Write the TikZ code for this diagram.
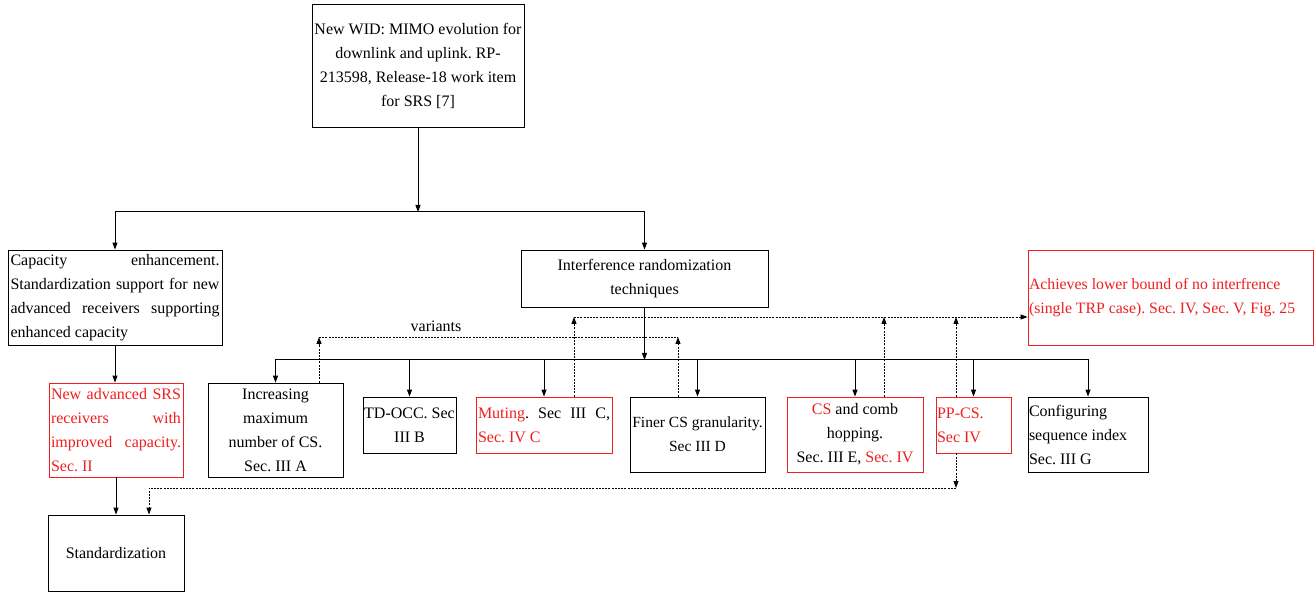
\documentclass[tikz,border=0pt]{standalone}
\usepackage{fontspec}
\setmainfont{Liberation Serif}
\usetikzlibrary{arrows.meta}
\definecolor{myred}{RGB}{240,30,30}
\hyphenpenalty=10000
\exhyphenpenalty=10000
\frenchspacing
\newcommand{\jline}[1]{\leavevmode\hbox to \hsize{\spaceskip=0pt\xspaceskip=0pt #1}}
\begin{document}
\begin{tikzpicture}[x=1pt,y=-1pt,
  box/.style={draw, line width=0.8pt, inner ysep=0pt, inner xsep=1pt, font=\fontsize{16}{24}\selectfont, align=center,
    execute at begin node={\spaceskip=\fontdimen2\font\xspaceskip=\fontdimen2\font}},
  redbox/.style={box, draw=myred, text=myred},
  tip/.tip={Triangle[length=7pt,width=5pt]},
  conn/.style={line width=1pt, -tip},
  dconn/.style={line width=0.9pt, dash pattern=on 2pt off 1.2pt, -tip},
  dline/.style={line width=0.9pt, dash pattern=on 2pt off 1.2pt}]
\useasboundingbox (0,0) rectangle (1315,593);

% nodes
\node[box, minimum width=212pt, minimum height=123pt, text width=210pt] (top) at (418,65.5)
  {New WID: MIMO evolution for\\ downlink and uplink. RP-\\ 213598, Release-18 work item\\ for SRS [7]};
\node[box, minimum width=214pt, minimum height=95pt, inner xsep=2.5pt, text width=209pt, align=left] (cap) at (115,297.5)
  {\jline{Capacity enhancement.}\\ \jline{Standardization support for new}\\ \jline{advanced receivers supporting}\\ enhanced capacity};
\node[box, minimum width=247pt, minimum height=57pt, text width=245pt] (interf) at (644.5,278.5)
  {Interference randomization\\ techniques};
\node[redbox, minimum width=285pt, minimum height=95pt, text width=283pt, align=left, font=\fontsize{15.8}{24}\selectfont] (ach) at (1170.5,297.5)
  {Achieves lower bound of no interfrence\\ (single TRP case). Sec. IV, Sec. V, Fig. 25};
\node[redbox, minimum width=134pt, minimum height=94pt, inner xsep=2pt, text width=130pt, align=left] (srs) at (116,430)
  {\jline{New advanced SRS}\\ \jline{receivers with}\\ \jline{improved capacity.}\\ Sec. II};
\node[box, minimum width=135pt, minimum height=94pt, text width=133pt] (inc) at (275.5,430)
  {Increasing\\ maximum\\ number of CS.\\ Sec. III A};
\node[box, minimum width=93pt, minimum height=56pt, inner xsep=0.5pt, text width=92pt] (td) at (409.5,425)
  {TD-OCC. Sec\\ III B};
\node[box, draw=myred, minimum width=136pt, minimum height=56pt, inner xsep=2pt, text width=132pt, align=left] (mut) at (544,425)
  {\jline{{\color{myred}Muting}. Sec III C,}\\ {\color{myred}Sec. IV C}};
\node[box, minimum width=135pt, minimum height=75pt, text width=133pt, font=\fontsize{15.5}{24}\selectfont] (fin) at (697.5,434.5)
  {Finer CS granularity.\\ Sec III D};
\node[box, draw=myred, minimum width=136pt, minimum height=75pt, text width=134pt] (cs) at (855,434.5)
  {{\color{myred}CS} and comb\\ hopping.\\ Sec. III E, {\color{myred}Sec. IV}};
\node[redbox, minimum width=75pt, minimum height=56pt, text width=73pt, align=left] (pp) at (973.5,425)
  {PP-CS.\\ Sec IV};
\node[box, minimum width=120pt, minimum height=75pt, text width=118pt, align=left] (cfg) at (1088,434.5)
  {Configuring\\ sequence index\\ Sec. III G};
\node[box, minimum width=136pt, minimum height=76pt, text width=134pt] (std) at (116,553)
  {Standardization};
\node[font=\fontsize{16}{24}\selectfont, inner sep=0pt] (var) at (436,326) {variants};

% solid connectors
\coordinate (split) at (418,212);
\coordinate (bus) at (644.5,360);
\draw[conn] (top) -- (split);
\draw[conn] (split) -| (cap);
\draw[conn] (split) -| (interf);
\draw[conn] (cap.south) -- (cap.south |- srs.north);
\draw[conn] (srs) -- (std);
\draw[conn] (interf) -- (bus);
\foreach \n in {inc,td,mut,fin,cs,pp,cfg} \draw[conn] (bus) -| (\n);

% dashed: variants
\coordinate (v1) at (319,337);
\coordinate (v2) at (678,337);
\draw[dconn] (inc.north -| v1) -- (v1);
\draw[dconn] (fin.north -| v2) -- (v2);
\draw[dline] (v1) -- (v2);

% dashed: to lower bound
\coordinate (u1) at (574,317);
\coordinate (u2) at (884,317);
\coordinate (u3) at (956,317);
\draw[dconn] (mut.north -| u1) -- (u1);
\draw[dconn] (cs.north -| u2) -- (u2);
\draw[dconn] (pp.north -| u3) -- (u3);
\draw[dconn] (u1) -- (u1 -| ach.west);

% dashed: PP-CS to standardization
\coordinate (l1) at (956,488);
\coordinate (l2) at (149,488);
\draw[dconn] (pp.south -| l1) -- (l1);
\draw[dconn] (l1) -- (l2) -- (l2 |- std.north);
\end{tikzpicture}
\end{document}
